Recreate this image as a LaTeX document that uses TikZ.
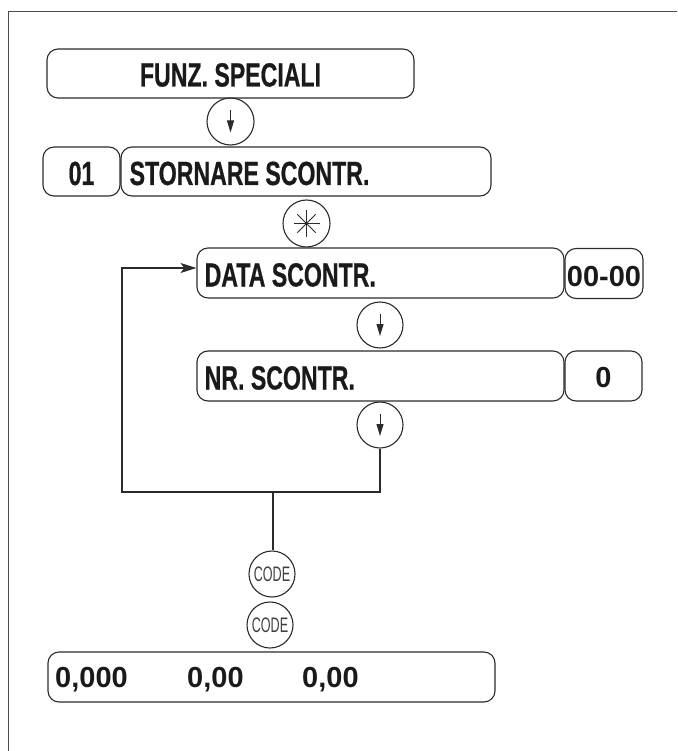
\documentclass[tikz,border=0pt]{standalone}
\usepackage{fontspec}
\setmainfont{Liberation Sans}
\newfontfamily\condb{Liberation Sans}[FakeStretch=0.69,FakeBold=0.6]
\newfontfamily\codef{Liberation Sans}[FakeStretch=0.6]
\usetikzlibrary{arrows.meta,calc}
\definecolor{ink}{HTML}{2B2B2B}
\definecolor{txt}{HTML}{1A1A1A}
\tikzset{
  box/.style={draw=ink, line width=1.1pt, rounded corners=11pt, inner sep=0pt},
  key/.style={draw=ink, line width=1.1pt, circle, inner sep=0pt, minimum size=46pt},
  lbl/.style={text=txt, inner sep=0pt, font=\condb\bfseries\fontsize{33.5}{34}\selectfont},
  num/.style={text=txt, inner sep=0pt, font=\bfseries\fontsize{29}{30}\selectfont},
  codelbl/.style={text=black!75, inner sep=0pt, font=\codef\fontsize{21}{22}\selectfont},
  conn/.style={draw=ink, line width=1.1pt},
  framel/.style={draw=black!70, line width=1.5pt},
}
\newcommand\keyarrow[1]{\draw[conn, line width=1pt, -{Triangle[length=12pt,width=7pt]}] ($(#1)+(0,-11)$) -- ($(#1)+(0,11)$);}
\begin{document}
\begin{tikzpicture}[x=1pt,y=-1pt]
\useasboundingbox (0,0) rectangle (677,751);
% frame
\draw[framel] (677,11.7) -- (8.3,11.7) -- (8.3,751);

% boxes
\node[box, minimum width=367pt, minimum height=49pt] (funz) at (230.5,73.5) {};
\node[box, minimum width=77pt, minimum height=49pt] (b01) at (81.5,171.5) {};
\node[box, minimum width=370pt, minimum height=49pt] (storn) at (306,171.5) {};
\node[box, minimum width=367pt, minimum height=50pt] (data) at (380.5,273) {};
\node[box, minimum width=78pt, minimum height=50pt] (d00) at (604,273.5) {};
\node[box, minimum width=367pt, minimum height=50pt] (nr) at (380.5,376) {};
\node[box, minimum width=77pt, minimum height=50pt] (n0) at (603.5,376) {};
\node[box, minimum width=447pt, minimum height=50pt] (res) at (271.5,677) {};

% labels
\node[lbl, anchor=base] (tfunz) at ($(funz.center)+(0,13)$) {FUNZ. SPECIALI};
\node[lbl, anchor=base] (t01) at ($(b01.center)+(0,13.5)$) {01};
\node[lbl, anchor=base west] (tstorn) at ($(storn.west)+(9,13.5)$) {STORNARE SCONTR.};
\node[lbl, anchor=base west] (tdata) at ($(data.west)+(8,13.5)$) {DATA SCONTR.};
\node[num, anchor=base] (t00) at ($(d00.center)+(0,12.5)$) {00-00};
\node[lbl, anchor=base west] (tnr) at ($(nr.west)+(8,13.5)$) {NR. SCONTR.};
\node[num, anchor=base] (t0) at ($(n0.center)+(0,11.5)$) {0};
\node[num, anchor=base west] (r1) at (55,687) {0,000};
\node[num, anchor=base west] (r2) at (187,687) {0,00};
\node[num, anchor=base west] (r3) at (302,687) {0,00};

% keys
\node[key, minimum size=47pt] (k1) at (230.5,121.5) {};
\node[key, minimum size=47pt] (kstar) at (306.5,223.5) {};
\node[key] (k2) at (380,325) {};
\node[key] (k3) at (380,425) {};
\node[key] (code1) at (272,574) {};
\node[key] (code2) at (270,625) {};
\keyarrow{k1}
\keyarrow{k2}
\keyarrow{k3}
\foreach \a in {0,45,90,135}
  \draw[conn, line width=0.9pt] ($(kstar)+(\a:13)$) -- ($(kstar)+(\a+180:13)$);
\node[codelbl, anchor=base] (tc1) at ($(code1.center)+(0,7.5)$) {CODE};
\node[codelbl, anchor=base] (tc2) at ($(code2.center)+(0,7.5)$) {CODE};

% connectors
\coordinate (j1) at (380,492);
\coordinate (j2) at (122,492);
\coordinate (j3) at (122,268);
\coordinate (j4) at (273,492);
\draw[conn, -{Stealth[length=16pt,width=10pt,inset=4pt]}] (k3.south) -- (j1) -- (j2) -- (j3) -- (j3 -| data.west);
\draw[conn] (j4) -- (j4 |- code1.north);
\end{tikzpicture}
\end{document}
